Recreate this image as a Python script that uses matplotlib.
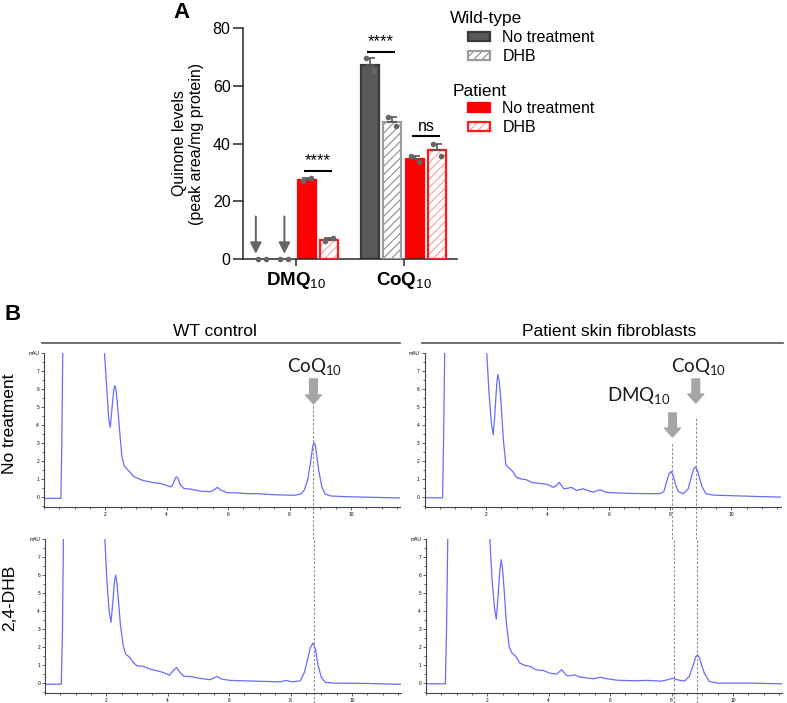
import numpy as np
import matplotlib.pyplot as plt
from matplotlib.patches import Patch
from matplotlib.lines import Line2D
from matplotlib.ticker import MultipleLocator

plt.rcParams['font.family'] = ['Liberation Sans', 'DejaVu Sans']
plt.rcParams['mathtext.fontset'] = 'custom'
plt.rcParams['mathtext.rm'] = 'Lato'
plt.rcParams['mathtext.sf'] = 'Liberation Sans'
plt.rcParams['mathtext.bf'] = 'Liberation Sans:bold'
plt.rcParams['hatch.linewidth'] = 0.8

# ---------------- panel A data ----------------
quinone_labels = [r'$\mathbf{DMQ}_{\mathsf{10}}$', r'$\mathbf{CoQ}_{\mathsf{10}}$']
conditions = ['No treatment', 'DHB', 'No treatment', 'DHB']   # WT, WT, patient, patient
# replicate values (peak area / mg protein): WT NT, WT DHB, Pt NT, Pt DHB
dmq_points = [[0.0, 0.0], [0.0, 0.0], [26.9, 28.0], [6.2, 7.1]]
coq_points = [[69.5, 65.0], [49.2, 46.0], [35.6, 33.7], [40.0, 35.6]]
sig_pairs = [(0, 2, 3), (1, 0, 1), (1, 2, 3)]      # (quinone, bar a, bar b)
sig_labels = ['****', '****', 'ns']
sig_heights = [30.5, 71.8, 42.6]

# ---------------- panel B data (retention time min, mAU) ----------------
t_wt_nt = [0.0, 0.30, 0.55, 0.58, 0.62, 1.93, 1.97, 2.05, 2.11, 2.16, 2.22, 2.27, 2.31, 2.35, 2.40,
           2.49, 2.54, 2.62, 2.76, 2.93, 3.06, 3.25, 3.58, 3.80, 4.01, 4.15, 4.23, 4.28, 4.32, 4.37,
           4.43, 4.56, 4.78, 5.10, 5.43, 5.56, 5.65, 5.76, 5.98, 6.19, 6.63, 6.96, 7.50, 8.16, 8.37,
           8.48, 8.59, 8.68, 8.75, 8.79, 8.83, 8.87, 8.95, 9.05, 9.16, 9.35, 9.90, 10.66, 11.6]
mau_wt_nt = [-0.07, -0.07, -0.07, 3.0, 9.5, 9.5, 8.0, 5.94, 4.3, 3.87, 5.0, 5.9, 6.19, 5.9, 5.0,
             3.17, 2.24, 1.72, 1.46, 1.13, 1.04, 0.91, 0.80, 0.76, 0.63, 0.57, 0.82, 1.06, 1.13, 1.02,
             0.72, 0.48, 0.44, 0.33, 0.30, 0.42, 0.54, 0.39, 0.24, 0.24, 0.19, 0.19, 0.13, 0.10, 0.17,
             0.39, 0.94, 1.87, 2.75, 3.02, 2.95, 2.55, 1.50, 0.58, 0.17, 0.06, 0.02, -0.01, -0.05]

t_pt_nt = [0.0, 0.30, 0.59, 0.62, 0.67, 2.00, 2.03, 2.10, 2.18, 2.24, 2.28, 2.32, 2.36, 2.39, 2.43,
           2.48, 2.57, 2.65, 2.76, 2.87, 3.00, 3.17, 3.31, 3.49, 3.65, 3.87, 4.03, 4.20, 4.30, 4.39,
           4.54, 4.69, 4.79, 4.96, 5.17, 5.34, 5.50, 5.72, 5.93, 6.37, 6.91, 7.24, 7.67, 7.80, 7.91,
           7.97, 8.04, 8.10, 8.18, 8.27, 8.43, 8.59, 8.70, 8.77, 8.83, 8.90, 8.97, 9.05, 9.17, 9.41,
           10.17, 10.71, 11.6]
mau_pt_nt = [-0.04, -0.04, -0.04, 3.0, 9.5, 9.5, 8.0, 5.8, 4.1, 3.46, 4.3, 5.4, 6.4, 6.80, 6.5,
             5.59, 3.18, 1.79, 1.61, 1.43, 1.09, 1.00, 0.97, 0.82, 0.78, 0.74, 0.69, 0.54, 0.65, 0.82,
             0.46, 0.50, 0.54, 0.37, 0.46, 0.35, 0.28, 0.41, 0.26, 0.22, 0.20, 0.19, 0.19, 0.31, 0.96,
             1.30, 1.42, 1.20, 0.70, 0.31, 0.19, 0.45, 1.15, 1.55, 1.68, 1.45, 1.0, 0.55, 0.19, 0.11,
             0.07, 0.04, 0.0]

t_wt_dhb = [0.0, 0.30, 0.53, 0.57, 0.61, 1.91, 1.95, 2.02, 2.09, 2.15, 2.22, 2.26, 2.30, 2.34, 2.38,
            2.46, 2.55, 2.63, 2.76, 2.87, 3.00, 3.20, 3.42, 3.64, 3.85, 4.05, 4.18, 4.29, 4.40, 4.53,
            4.73, 5.05, 5.38, 5.49, 5.60, 5.76, 6.03, 6.36, 6.79, 7.23, 7.67, 7.86, 8.05, 8.32, 8.45,
            8.56, 8.65, 8.73, 8.81, 8.89, 9.00, 9.14, 9.41, 10.50, 11.6]
mau_wt_dhb = [-0.06, -0.06, -0.06, 3.0, 9.5, 9.5, 8.0, 5.59, 4.0, 3.37, 4.67, 5.6, 6.0, 5.6, 4.85,
              3.19, 2.07, 1.61, 1.43, 1.15, 0.96, 0.93, 0.78, 0.69, 0.59, 0.44, 0.69, 0.87, 0.59, 0.37,
              0.37, 0.26, 0.19, 0.28, 0.37, 0.22, 0.15, 0.13, 0.11, 0.09, 0.07, 0.15, 0.07, 0.13, 0.59,
              1.33, 1.98, 2.22, 1.89, 1.06, 0.32, 0.04, 0.00, -0.02, -0.07]

t_pt_dhb = [0.0, 0.30, 0.63, 0.67, 0.72, 2.04, 2.08, 2.16, 2.23, 2.29, 2.33, 2.37, 2.41, 2.45, 2.49,
            2.53, 2.62, 2.71, 2.80, 2.93, 3.06, 3.22, 3.39, 3.58, 3.82, 4.04, 4.26, 4.34, 4.42, 4.50,
            4.59, 4.72, 4.83, 5.03, 5.47, 5.68, 5.90, 6.23, 6.77, 7.21, 7.65, 7.87, 8.03, 8.20, 8.42,
            8.58, 8.71, 8.79, 8.85, 8.91, 8.96, 9.07, 9.23, 9.51, 10.60, 11.6]
mau_pt_dhb = [-0.04, -0.04, -0.04, 3.0, 9.5, 9.5, 8.0, 5.56, 4.2, 3.55, 4.4, 5.37, 6.3, 6.85, 6.4,
              5.56, 3.33, 2.03, 1.67, 1.48, 1.11, 0.98, 0.93, 0.74, 0.70, 0.55, 0.50, 0.62, 0.74, 0.58,
              0.41, 0.41, 0.46, 0.33, 0.24, 0.33, 0.24, 0.16, 0.13, 0.15, 0.11, 0.18, 0.27, 0.18, 0.11,
              0.37, 1.02, 1.45, 1.57, 1.40, 1.11, 0.55, 0.09, 0.00, 0.00, -0.04]

rt_coq_wt = 8.78
rt_dmq_pt = 8.08
rt_coq_pt = 8.84

# ---------------- figure ----------------
W, H = 787, 703
fig = plt.figure(figsize=(W / 100, H / 100), dpi=100)


def rect(l, t, r, b):
    return [l / W, 1 - b / H, (r - l) / W, (b - t) / H]


# styles per condition
face = ['#595959', 'white', '#ff0000', 'white']
edge = ['#3a3a3a', '#9c9c9c', '#ff0000', '#ff1a1a']
hatch_col = [None, '#8a8a8a', None, '#ff9a9a']
arrow_shift = [-0.27, 0.0]   # the two "not detected" arrows over the WT DMQ10 bars

axA = fig.add_axes(rect(243, 28, 457, 259))
group_x = [0.0, 4.8]
bar_w = 0.8
for g, pts_all in enumerate([dmq_points, coq_points]):
    for i, pts in enumerate(pts_all):
        x = group_x[g] + i
        mean = np.mean(pts)
        sem = np.std(pts, ddof=1) / np.sqrt(len(pts))
        if mean > 0:
            if hatch_col[i]:
                axA.bar(x, mean, bar_w, color='white', edgecolor=hatch_col[i], hatch='////', lw=0, zorder=2)
                axA.bar(x, mean, bar_w, fill=False, edgecolor=edge[i], lw=1.6, zorder=3)
            else:
                axA.bar(x, mean, bar_w, color=face[i], edgecolor=edge[i], lw=1.6, zorder=2)
        if sem > 0:
            axA.errorbar(x, mean, yerr=[[0], [sem]], fmt='none', ecolor='#555555',
                         elinewidth=1.2, capsize=3.5, capthick=1.2, zorder=4)
        offs = np.linspace(-0.18, 0.18, len(pts))
        axA.scatter(x + offs, pts, s=16, color='#666666', zorder=5, clip_on=False, linewidths=0)
        if mean == 0:
            xa = x + arrow_shift[i]
            axA.annotate('', xy=(xa, 1.8), xytext=(xa, 14.7),
                         arrowprops=dict(arrowstyle='-|>,head_length=0.55,head_width=0.28',
                                         color='#666666', lw=1.5, mutation_scale=12,
                                         shrinkA=0, shrinkB=0))

for (g, a, b), lab, hgt in zip(sig_pairs, sig_labels, sig_heights):
    xa, xb = group_x[g] + a - 0.13, group_x[g] + b + 0.13
    axA.plot([xa, xb], [hgt, hgt], color='black', lw=1.5, solid_capstyle='butt')
    axA.text((xa + xb) / 2, hgt + 0.8, lab, ha='center', va='bottom',
             fontsize=12 if lab != 'ns' else 11.5)

axA.set_xlim(-0.84, 8.67)
axA.set_ylim(0, 80)
axA.set_yticks([0, 20, 40, 60, 80])
axA.set_xticks([group_x[0] + 1.5, group_x[1] + 1.5])
axA.set_xticklabels(quinone_labels, fontsize=13.5)
for s in ['top', 'right']:
    axA.spines[s].set_visible(False)
for s in ['left', 'bottom']:
    axA.spines[s].set_linewidth(1.1)
    axA.spines[s].set_color('#262626')
axA.tick_params(axis='y', length=7, width=1.1, labelsize=11.5, color='#262626', pad=2)
axA.tick_params(axis='x', length=5, width=1.1, color='#262626', pad=3)
axA.set_ylabel('Quinone levels\n(peak area/mg protein)', fontsize=11.5, labelpad=6)

# legend
fig.text(450 / W, 1 - 18 / H, 'Wild-type', fontsize=12.5, va='center', ha='left')
fig.text(453 / W, 1 - 91 / H, 'Patient', fontsize=12.5, va='center', ha='left')
h_wt = [Patch(facecolor=face[0], edgecolor=edge[0], lw=1.6),
        (Patch(facecolor='white', edgecolor=hatch_col[1], hatch='////', lw=0),
         Patch(fill=False, edgecolor=edge[1], lw=1.6))]
h_pt = [Patch(facecolor=face[2], edgecolor=edge[2], lw=1.6),
        (Patch(facecolor='white', edgecolor=hatch_col[3], hatch='////', lw=0),
         Patch(fill=False, edgecolor=edge[3], lw=1.6))]
leg_kw = dict(loc='upper left', bbox_transform=fig.transFigure, frameon=False, fontsize=11.5,
              handlelength=1.35, handleheight=0.5, handletextpad=0.8, borderpad=0,
              borderaxespad=0, labelspacing=0.25)
leg1 = axA.legend(h_wt, conditions[:2], bbox_to_anchor=(468 / W, 1 - 30 / H), **leg_kw)
axA.add_artist(leg1)
axA.legend(h_pt, conditions[2:], bbox_to_anchor=(468 / W, 1 - 101 / H), **leg_kw)

# panel letters
fig.text(173 / W, 1 - 13 / H, 'A', fontsize=16, fontweight='bold', va='center')
fig.text(5 / W, 1 - 314 / H, 'B', fontsize=16, fontweight='bold', va='center')

# ---------------- panel B ----------------
trace_col = '#6a6aff'
ylo, yhi = -0.55, 8.0


def chrom(box, t, mau):
    ax = fig.add_axes(rect(*box))
    ax.plot(t, mau, color=trace_col, lw=0.9)
    ax.set_xlim(0, 11.6)
    ax.set_ylim(ylo, yhi)
    for s in ['top', 'right']:
        ax.spines[s].set_visible(False)
    for s in ['left', 'bottom']:
        ax.spines[s].set_linewidth(0.8)
        ax.spines[s].set_color('#444444')
    ax.set_xticks([2, 4, 6, 8, 10])
    ax.xaxis.set_minor_locator(MultipleLocator(0.5))
    ax.set_yticks(range(0, 9))
    ax.set_yticklabels([str(v) for v in range(0, 8)] + ['mAU'])
    ax.yaxis.set_minor_locator(MultipleLocator(0.5))
    ax.tick_params(which='both', length=2, width=0.6, color='#444444', labelsize=3.5, pad=1.5)
    ax.tick_params(which='minor', length=1.2)
    return ax


ax_tl = chrom((44, 353, 400, 507), t_wt_nt, mau_wt_nt)
ax_tr = chrom((424.5, 353, 780.5, 507), t_pt_nt, mau_pt_nt)
ax_bl = chrom((45, 539, 401, 693), t_wt_dhb, mau_wt_dhb)
ax_br = chrom((426, 539, 782, 693), t_pt_dhb, mau_pt_dhb)

gap = 32 / 18  # data units between top and bottom rows
dash_kw = dict(color='#8c8c8c', lw=0.8, ls=(0, (2.2, 1.6)), clip_on=False, zorder=1)
arrow_kw = dict(arrowstyle='simple,head_length=0.65,head_width=1.15,tail_width=0.55',
                color='#a6a6a6', mutation_scale=10, shrinkA=0, shrinkB=0)

# WT column: CoQ10 peak
ax_tl.plot([rt_coq_wt, rt_coq_wt], [ylo - gap, 5.11], **dash_kw)
ax_bl.plot([rt_coq_wt, rt_coq_wt], [ylo - 10 / 18, yhi], **dash_kw)
ax_tl.annotate('', xy=(rt_coq_wt, 5.17), xytext=(rt_coq_wt, 6.56), arrowprops=arrow_kw)
ax_tl.text(rt_coq_wt + 0.05, 6.62, r'$\mathrm{CoQ}_{\mathrm{10}}$', ha='center', va='bottom',
           fontsize=13.5, color='#1a1a1a')

# patient column: DMQ10 and CoQ10 peaks
ax_tr.plot([rt_dmq_pt, rt_dmq_pt], [ylo - gap, 3.06], **dash_kw)
ax_tr.plot([rt_coq_pt, rt_coq_pt], [ylo - gap, 4.44], **dash_kw)
ax_br.plot([rt_dmq_pt, rt_dmq_pt], [ylo - 10 / 18, yhi], **dash_kw)
ax_br.plot([rt_coq_pt, rt_coq_pt], [ylo - 10 / 18, yhi], **dash_kw)
ax_tr.annotate('', xy=(rt_dmq_pt, 3.33), xytext=(rt_dmq_pt, 4.67), arrowprops=arrow_kw)
ax_tr.annotate('', xy=(rt_coq_pt, 5.22), xytext=(rt_coq_pt, 6.56), arrowprops=arrow_kw)
ax_tr.text(rt_dmq_pt - 0.05, 5.0, r'$\mathrm{DMQ}_{\mathrm{10}}$', ha='right', va='bottom',
           fontsize=13.5, color='#1a1a1a')
ax_tr.text(rt_coq_pt + 0.1, 6.62, r'$\mathrm{CoQ}_{\mathrm{10}}$', ha='center', va='bottom',
           fontsize=13.5, color='#1a1a1a')

# column headers and rules
fig.text(215 / W, 1 - 332 / H, 'WT control', fontsize=12.5, ha='center', va='center')
fig.text(609 / W, 1 - 332 / H, 'Patient skin fibroblasts', fontsize=12.5, ha='center', va='center')
fig.add_artist(Line2D([42 / W, 400 / W], [1 - 343 / H] * 2, color='#555555', lw=1.2,
                      transform=fig.transFigure))
fig.add_artist(Line2D([422 / W, 783 / W], [1 - 343 / H] * 2, color='#555555', lw=1.2,
                      transform=fig.transFigure))

# row labels
fig.text(10 / W, 1 - 424 / H, 'No treatment', fontsize=12.5, rotation=90, ha='center', va='center')
fig.text(10 / W, 1 - 598 / H, '2,4-DHB', fontsize=12.5, rotation=90, ha='center', va='center')

fig.savefig('out.png', dpi=100)
